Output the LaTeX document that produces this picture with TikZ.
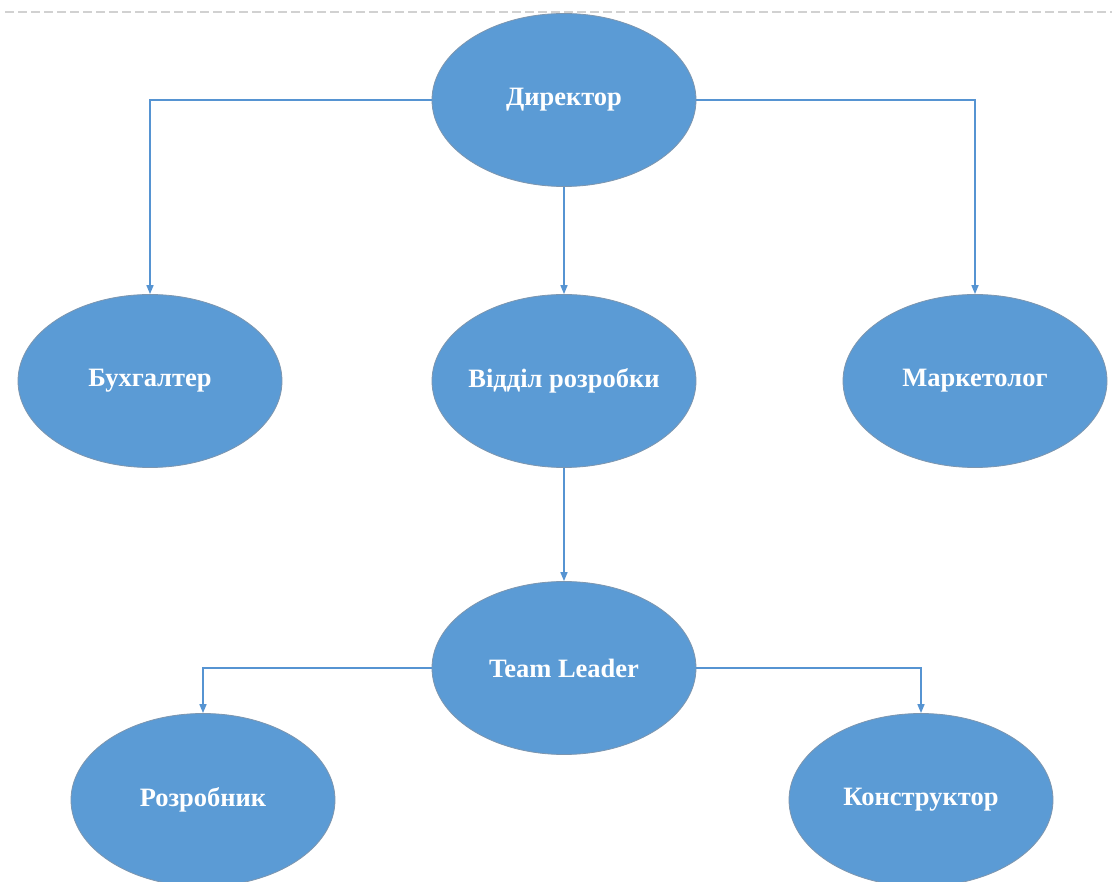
\documentclass[tikz,border=0pt]{standalone}
\usepackage{fontspec}
\setmainfont{Liberation Serif}
\usetikzlibrary{shapes.geometric,arrows.meta}
\definecolor{unitblue}{RGB}{91,155,213}
\definecolor{unitedge}{RGB}{125,150,175}
\definecolor{linkblue}{RGB}{86,148,210}
\tikzset{
  unit/.style={ellipse, fill=unitblue, draw=unitedge, line width=0.8pt,
    minimum width=264pt, minimum height=173pt, inner ysep=0pt, inner xsep=-20pt,
    text=white, font=\fontsize{26.5}{30}\selectfont\bfseries},
  link/.style={draw=linkblue, line width=1.6pt,
    -{Triangle[length=9pt,width=7pt]}}
}
\begin{document}
\begin{tikzpicture}[x=1pt,y=-1pt]
\useasboundingbox (0,0) rectangle (1112,882);
\clip (0,0) rectangle (1112,882);
\fill[white] (0,0) rectangle (1112,882);
% page edge marker
\draw[black!18, line width=2pt, dash pattern=on 9pt off 4pt] (5,12) -- (1112,12);

\node[unit] (dir) at (564,100) {Директор};
\node[unit] (acc) at (150,381) {Бухгалтер};
\node[unit] (dev) at (564,381) {Відділ розробки};
\node[unit] (mkt) at (975,381) {Маркетолог};
\node[unit] (tl)  at (564,668) {Team Leader};
\node[unit] (prg) at (203,800) {Розробник};
\node[unit] (eng) at (921,800) {Конструктор};

\draw[link] (dir.west) -| (acc.north);
\draw[link] (dir.east) -| (mkt.north);
\draw[link] (dir.south) -- (dev.north);
\draw[link] (dev.south) -- (tl.north);
\draw[link] (tl.west) -| (prg.north);
\draw[link] (tl.east) -| (eng.north);
\end{tikzpicture}
\end{document}
